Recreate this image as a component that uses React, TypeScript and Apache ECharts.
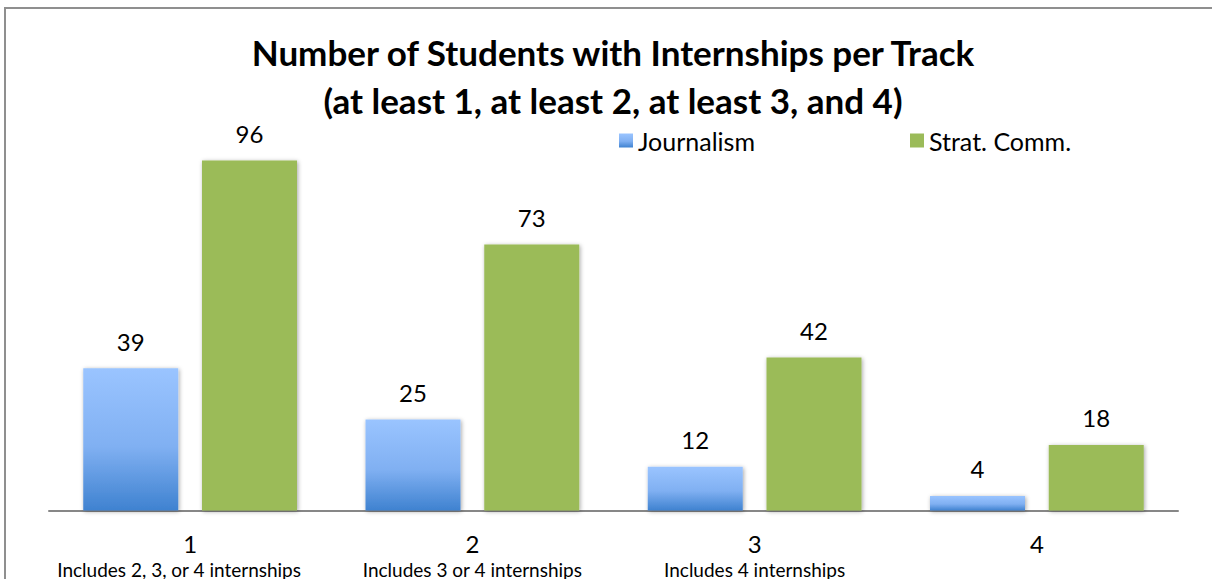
import React, { useEffect, useRef } from "react";
import * as echarts from "echarts";

const categories = ["1", "2", "3", "4"];
const subLabels = [
  "Includes 2, 3, or 4 internships",
  "Includes 3 or 4 internships",
  "Includes 4 internships",
  "",
];
const journalism = [39, 25, 12, 4];
const stratComm = [96, 73, 42, 18];
const seriesNames = ["Journalism", "Strat. Comm."];
const titleLines = [
  "Number of Students with Internships per Track",
  "(at least 1, at least 2, at least 3, and 4)",
];

const FONT = "Lato, 'Open Sans', sans-serif";

export default function App() {
  const ref = useRef<HTMLDivElement>(null);
  useEffect(() => {
    if (!ref.current) return;
    const chart = echarts.init(ref.current, undefined, { renderer: "svg" });
    const blue = new echarts.graphic.LinearGradient(0, 0, 0, 1, [
      { offset: 0, color: "#9ac4ff" },
      { offset: 0.55, color: "#80b0f2" },
      { offset: 1, color: "#3f82d0" },
    ]);
    const green = "#9bbb59";
    const shadow = {
      shadowBlur: 4,
      shadowColor: "rgba(0,0,0,0.35)",
      shadowOffsetX: 1,
      shadowOffsetY: 1,
    };
    const label = {
      show: true,
      position: "top",
      distance: 15,
      fontSize: 24,
      color: "#000",
      fontFamily: FONT,
    };
    const legendText = { fontFamily: FONT, fontSize: 25, color: "#000" };
    chart.setOption({
      animation: false,
      backgroundColor: "#fff",
      legend: [
        {
          data: [seriesNames[0]],
          left: 619,
          top: 128,
          padding: 0,
          itemWidth: 14,
          itemHeight: 14,
          icon: "rect",
          textStyle: legendText,
        },
        {
          data: [seriesNames[1]],
          left: 910,
          top: 128,
          padding: 0,
          itemWidth: 14,
          itemHeight: 14,
          icon: "rect",
          textStyle: legendText,
        },
      ],
      graphic: [
        {
          type: "rect",
          shape: { x: 5, y: 8, width: 1300, height: 700 },
          style: { fill: "none", stroke: "#8f8f8f", lineWidth: 2 },
          silent: true,
        },
        {
          type: "text",
          x: 613,
          y: 52,
          style: {
            text: titleLines[0],
            fontFamily: FONT,
            fontWeight: "bold",
            fontSize: 35,
            fill: "#000",
            align: "center",
            verticalAlign: "middle",
          },
        },
        {
          type: "text",
          x: 613,
          y: 100,
          style: {
            text: titleLines[1],
            fontFamily: FONT,
            fontWeight: "bold",
            fontSize: 35,
            fill: "#000",
            align: "center",
            verticalAlign: "middle",
          },
        },
      ],
      grid: { left: 49, right: 34, top: 146, bottom: 62 },
      xAxis: {
        type: "category",
        data: categories,
        axisTick: { show: false },
        axisLine: { lineStyle: { color: "#878787", width: 2 } },
        axisLabel: {
          interval: 0,
          margin: 19,
          formatter: (v: string, i: number) =>
            `{n|${v}}\n{${i === 0 ? "s0" : "s"}|${subLabels[i]}}`,
          rich: {
            n: { fontFamily: FONT, fontSize: 24, lineHeight: 28, color: "#000" },
            s: { fontFamily: FONT, fontSize: 19, lineHeight: 24, color: "#000" },
            s0: {
              fontFamily: FONT,
              fontSize: 19,
              lineHeight: 24,
              color: "#000",
              padding: [0, 22, 0, 0],
            },
          },
        },
      },
      yAxis: { type: "value", min: 0, max: 100, show: false },
      series: [
        {
          name: seriesNames[0],
          type: "bar",
          data: journalism,
          barWidth: 95,
          barGap: "25%",
          itemStyle: { color: blue, ...shadow },
          label,
        },
        {
          name: seriesNames[1],
          type: "bar",
          data: stratComm,
          barWidth: 95,
          barGap: "25%",
          itemStyle: { color: green, ...shadow },
          label,
        },
      ],
    });
    return () => chart.dispose();
  }, []);
  return (
    <div
      ref={ref}
      style={{ position: "fixed", left: 0, top: 0, width: 1212, height: 579 }}
    />
  );
}
